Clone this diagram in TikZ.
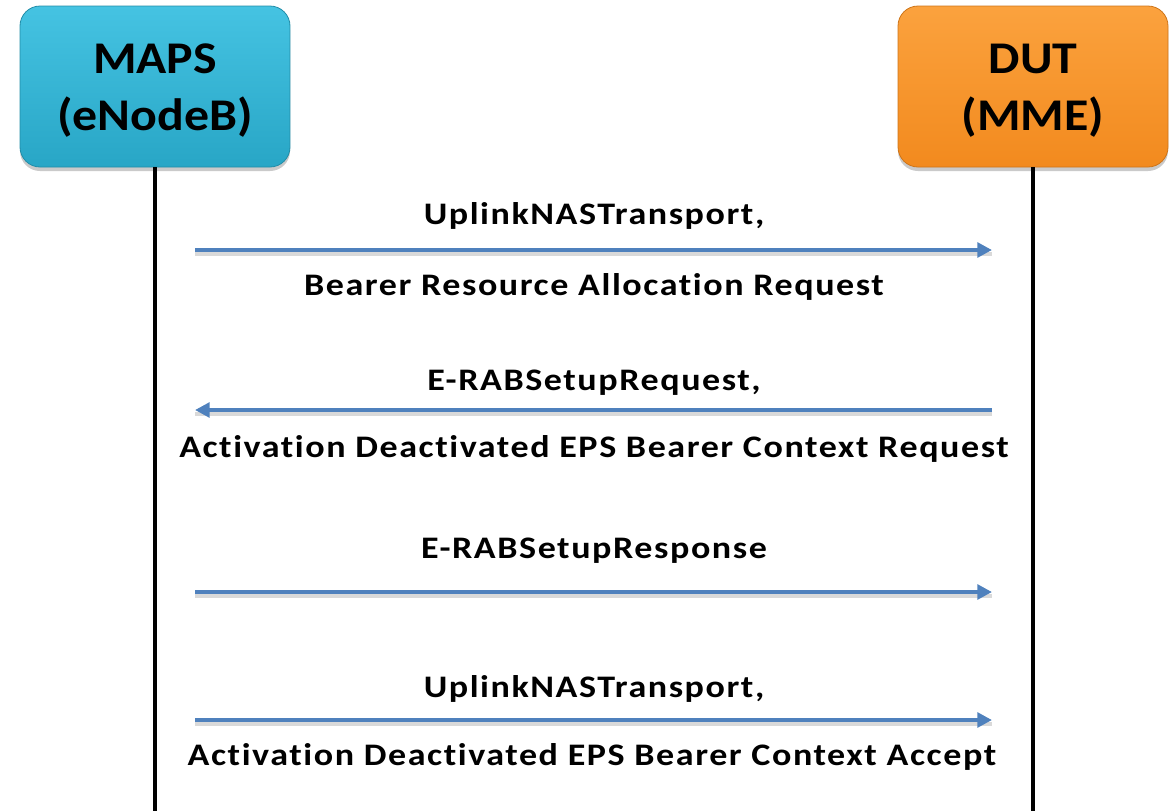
\documentclass[tikz,border=0pt]{standalone}
\usepackage{fontspec}
\setmainfont{Carlito}
\newfontfamily\lblfont[FakeStretch=1.15,LetterSpace=5,Ligatures=NoCommon]{Carlito}
\newfontfamily\boxfont[FakeStretch=1.1,Ligatures=NoCommon]{Carlito}
\usetikzlibrary{arrows.meta,shadows}
\definecolor{cyantop}{HTML}{45C3E2}
\definecolor{cyanbot}{HTML}{28A6C6}
\definecolor{orangetop}{HTML}{FBA23E}
\definecolor{orangebot}{HTML}{F28A1E}
\definecolor{msgblue}{HTML}{4F81BD}
\tikzset{
  actor/.style={rounded corners=15pt, minimum width=202.5pt, minimum height=120.75pt,
    align=center, font=\boxfont\fontsize{34}{43}\selectfont\bfseries, inner sep=0pt,
    drop shadow={shadow xshift=0pt, shadow yshift=-3pt, opacity=0.35, fill=black!60}},
  lifeline/.style={line width=3pt, black},
  msg/.style={line width=3pt, msgblue, -{Triangle[length=11pt,width=11pt]}},
  msgshadow/.style={line width=3pt, black!15},
  lbl/.style={font=\lblfont\fontsize{23.5}{28}\selectfont\bfseries, anchor=base, inner sep=0pt}
}
\begin{document}
\begin{tikzpicture}[x=0.75pt,y=-0.75pt]
\useasboundingbox (0,0) rectangle (1175,811);
\node[actor, top color=cyantop, bottom color=cyanbot, draw=cyanbot!85!black, line width=0.6pt] (maps) at (155,86.5) {\rule{0pt}{28pt}MAPS\\(eNodeB)};
\node[actor, top color=orangetop, bottom color=orangebot, draw=orangebot!85!black, line width=0.6pt] (dut) at (1033,86.5) {\rule{0pt}{28pt}DUT\\(MME)};
\coordinate (mapsend) at (155,811);
\coordinate (dutend) at (1033,811);
\draw[lifeline] (maps.south) -- (mapsend);
\draw[lifeline] (dut.south) -- (dutend);
% arrow end points
\coordinate (a1s) at (195,250); \coordinate (a1e) at (992,250);
\coordinate (a2s) at (992,410); \coordinate (a2e) at (195,410);
\coordinate (a3s) at (195,592); \coordinate (a3e) at (992,592);
\coordinate (a4s) at (195,720); \coordinate (a4e) at (992,720);
\foreach \s/\e in {a1s/a1e,a2s/a2e,a3s/a3e,a4s/a4e}{
  \draw[msgshadow] ([yshift=-3pt]\s) -- ([yshift=-3pt]\e);
}
\draw[msg] (a1s) -- (a1e);
\draw[msg] (a2s) -- (a2e);
\draw[msg] (a3s) -- (a3e);
\draw[msg] (a4s) -- (a4e);
\node[lbl] (t1) at (594,224) {UplinkNASTransport,};
\node[lbl] (t2) at (594,295) {Bearer Resource Allocation Request};
\node[lbl] (t3) at (594,390) {E-RABSetupRequest,};
\node[lbl] (t4) at (594,457) {Activation Deactivated EPS Bearer Context Request};
\node[lbl] (t5) at (594,558) {E-RABSetupResponse};
\node[lbl] (t6) at (594,697) {UplinkNASTransport,};
\node[lbl] (t7) at (592,765) {Activation Deactivated EPS Bearer Context Accept};
\end{tikzpicture}
\end{document}
